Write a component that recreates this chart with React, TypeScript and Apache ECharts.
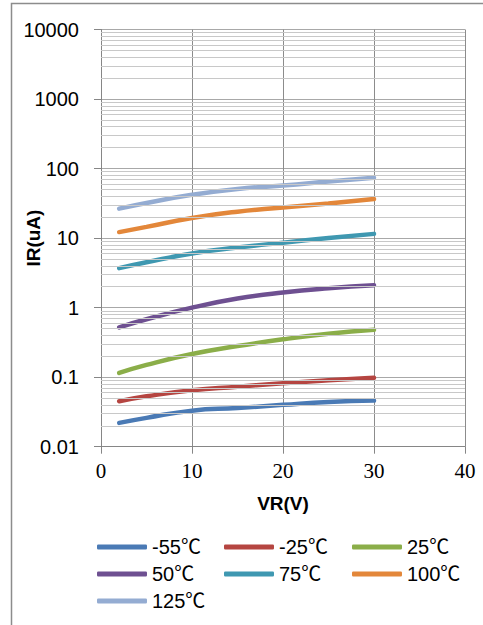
import React, { useEffect, useRef } from "react";
import * as echarts from "echarts";

const xValues = [2, 5, 10, 15, 20, 25, 30];
const seriesNames = ["-55℃", "-25℃", "25℃", "50℃", "75℃", "100℃", "125℃"];
const sM55 = [0.022, 0.026, 0.033, 0.036, 0.04, 0.044, 0.046];
const sM25 = [0.045, 0.053, 0.065, 0.073, 0.082, 0.09, 0.098];
const s25 = [0.115, 0.15, 0.215, 0.28, 0.35, 0.42, 0.48];
const s50 = [0.52, 0.68, 1.0, 1.35, 1.65, 1.9, 2.1];
const s75 = [3.7, 4.5, 6.0, 7.3, 8.6, 10, 11.5];
const s100 = [12.2, 14.5, 19.5, 24, 27.5, 31.5, 36.5];
const s125 = [26.5, 32, 42, 51, 57, 65, 74];
const seriesValues = [sM55, sM25, s25, s50, s75, s100, s125];
const colors = ["#4a7ab5", "#b54541", "#8bae49", "#6e5091", "#3f98b1", "#e3873a", "#94acd2"];
const yDecades = [0.01, 0.1, 1, 10, 100, 1000];
const minorMultipliers = [2, 3, 4, 5, 6, 7, 8, 9];

export default function App() {
  const ref = useRef<HTMLDivElement>(null);
  useEffect(() => {
    if (!ref.current) return;
    const chart = echarts.init(ref.current, undefined, { renderer: "svg" });
    const minorValues: number[] = [];
    yDecades.forEach((d) => minorMultipliers.forEach((m) => minorValues.push(Number((d * m).toPrecision(2)))));
    const fmtY = (v: number) => (v >= 1 ? String(Math.round(v)) : String(Number(v.toPrecision(1))));
    const legendText = { fontFamily: "Liberation Sans, Noto Sans CJK JP", fontSize: 20, color: "#000", lineHeight: 20 };
    const mkLegend = (left: number, names: string[]) => ({
      orient: "vertical",
      left,
      top: 532,
      itemGap: 7,
      itemWidth: 50,
      itemHeight: 5,
      icon: "roundRect",
      textStyle: legendText,
      data: names,
      selectedMode: false,
    });
    const option: any = {
      animation: false,
      textStyle: { fontFamily: "Liberation Sans" },
      grid: { left: 101, top: 29.5, right: 18, bottom: 178.3, containLabel: false, outerBoundsMode: "none" },
      graphic: [
        {
          type: "rect",
          shape: { x: 11.5, y: 3.5, width: 500, height: 700 },
          style: { fill: "none", stroke: "#8c8c8c", lineWidth: 1.5 },
          silent: true,
        },
      ],
      legend: [
        mkLegend(92, [seriesNames[0], seriesNames[3], seriesNames[6]]),
        mkLegend(219, [seriesNames[1], seriesNames[4]]),
        mkLegend(347, [seriesNames[2], seriesNames[5]]),
      ],
      xAxis: {
        type: "value",
        min: 0,
        max: 40,
        interval: 10,
        name: "VR(V)",
        nameLocation: "middle",
        nameGap: 47,
        nameMoveOverlap: false,
        nameTextStyle: { fontFamily: "Liberation Sans", fontWeight: "bold", fontSize: 19, color: "#000" },
        axisLine: { show: true, lineStyle: { color: "#868686", width: 1 } },
        axisTick: { show: true, length: 7, lineStyle: { color: "#868686" } },
        axisLabel: { fontFamily: "Liberation Serif", fontSize: 21, color: "#000", margin: 14 },
        splitLine: { show: true, lineStyle: { color: "#8c8c8c", width: 1 } },
      },
      yAxis: {
        type: "log",
        logBase: 10,
        min: 0.01,
        max: 10000,
        splitNumber: 6,
        name: "IR(uA)",
        nameLocation: "middle",
        nameGap: 58,
        nameMoveOverlap: false,
        nameTextStyle: { fontFamily: "Liberation Sans", fontWeight: "bold", fontSize: 19, color: "#000" },
        axisLine: { show: true, lineStyle: { color: "#868686", width: 1 } },
        axisTick: { show: true, length: 7, lineStyle: { color: "#868686" } },
        axisLabel: { fontFamily: "Liberation Sans", fontSize: 20, color: "#000", margin: 22, formatter: fmtY },
        splitLine: { show: true, lineStyle: { color: "#a8a8a8", width: 1 } },
      },
      series: [
        {
          type: "line",
          name: "minor",
          data: [],
          silent: true,
          z: 1,
          markLine: {
            silent: true,
            symbol: ["none", "none"],
            label: { show: false },
            lineStyle: { color: "#c8c8c8", width: 1, type: "solid" },
            emphasis: { disabled: true },
            data: minorValues.map((v) => ({ yAxis: v })),
          },
        },
        ...seriesNames.map((name, i) => ({
          type: "line",
          name,
          smooth: true,
          symbol: "none",
          z: 3,
          color: colors[i],
          lineStyle: { color: colors[i], width: 4.5, cap: "round" },
          itemStyle: { color: colors[i] },
          data: xValues.map((x, j) => [x, seriesValues[i][j]]),
        })),
      ],
    };
    chart.setOption(option);
    return () => chart.dispose();
  }, []);
  return <div ref={ref} style={{ position: "fixed", left: 0, top: 0, width: 483, height: 625, background: "#fff" }} />;
}
